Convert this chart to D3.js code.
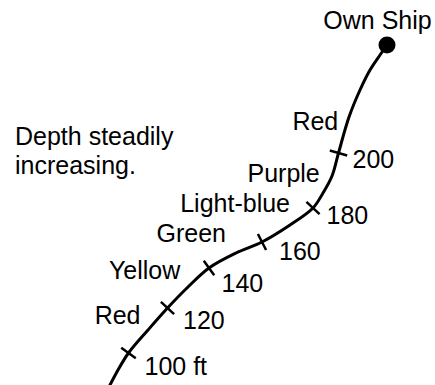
<!DOCTYPE html>
<html><head><meta charset="utf-8">
<script src="https://cdn.jsdelivr.net/npm/d3@7"></script>
<style>html,body{margin:0;padding:0;background:#fff;}svg{display:block;}</style>
</head><body>
<svg id="c" width="435" height="385"></svg>
<script>
// Track of own ship (east, north in chart units; north measured up from bottom)
const trackEast  = [110, 118, 128.5, 148, 167.5, 188, 209, 236, 262, 290, 313, 323, 332, 338.5, 349, 360, 370, 380, 387];
const trackNorth = [0,   15,  32,    55,  77,    98,  117, 132, 143, 160, 177, 192, 209, 232,   268, 295, 315, 330, 340];
// Depth soundings along the track
const depthValues = [100, 120, 140, 160, 180, 200];
const depthLabels = ["100 ft", "120", "140", "160", "180", "200"];
const depthEast  = [128.5, 167.5, 209, 262, 313, 338.5];
const depthNorth = [32,    77,    117, 143, 177, 232];
// Colour bands between soundings
const bandNames = ["Red", "Yellow", "Green", "Light-blue", "Purple", "Red"];
const shipLabel = "Own Ship";
const noteLines = ["Depth steadily", "increasing."];

const W = 435, H = 385;
const svg = d3.select("#c");
const x = d3.scaleLinear().domain([0, W]).range([0, W]);
const y = d3.scaleLinear().domain([0, H]).range([H, 0]);
const font = "'Liberation Sans', Arial, Helvetica, sans-serif";
const fs = 25;

const track = trackEast.map((e, i) => [e, trackNorth[i]]);
const line = d3.line().x(d => x(d[0])).y(d => y(d[1])).curve(d3.curveCatmullRom.alpha(0.5));
const path = svg.append("path").attr("d", line(track))
  .attr("fill", "none").attr("stroke", "#000").attr("stroke-width", 3).attr("stroke-linecap", "round");

// tangent helper
const pn = path.node(), L = pn.getTotalLength();
function tangentAt(px, py) {
  let best = 0, bd = Infinity;
  for (let s = 0; s <= L; s += 0.5) {
    const p = pn.getPointAtLength(s);
    const d = (p.x - px) ** 2 + (p.y - py) ** 2;
    if (d < bd) { bd = d; best = s; }
  }
  const a = pn.getPointAtLength(Math.max(0, best - 3)), b = pn.getPointAtLength(Math.min(L, best + 3));
  const dx = b.x - a.x, dy = b.y - a.y, n = Math.hypot(dx, dy);
  return [dx / n, dy / n];
}

const tickHalf = 9;
const numOffsets = [[16, 21.5], [15.5, 20.5], [12.5, 23.5], [17, 18], [13.5, 15.5], [14, 15]];
depthValues.forEach((d, i) => {
  const px = x(depthEast[i]), py = y(depthNorth[i]);
  const [tx, ty] = tangentAt(px, py);
  const nx = -ty, ny = tx;
  svg.append("line")
    .attr("x1", px - nx * tickHalf).attr("y1", py - ny * tickHalf)
    .attr("x2", px + nx * tickHalf).attr("y2", py + ny * tickHalf)
    .attr("stroke", "#000").attr("stroke-width", 2.5);
  svg.append("text").attr("x", px + numOffsets[i][0]).attr("y", py + numOffsets[i][1])
    .attr("font-family", font).attr("font-size", fs).attr("fill", "#000").text(depthLabels[i]);
});

// band labels: anchored at end, relative to midpoint between soundings
const bandOffsets = [[-7.5, -6.5], [-8, -9.5], [-9.5, -13.5], [2.5, -13.5], [-6, 1], [-5.5, -5]];
bandNames.forEach((name, i) => {
  let mx, my;
  if (i < depthValues.length - 1) {
    mx = (x(depthEast[i]) + x(depthEast[i + 1])) / 2;
    my = (y(depthNorth[i]) + y(depthNorth[i + 1])) / 2;
  } else {
    mx = (x(depthEast[i]) + x(349)) / 2;
    my = (y(depthNorth[i]) + y(268)) / 2;
  }
  svg.append("text").attr("x", mx + bandOffsets[i][0]).attr("y", my + bandOffsets[i][1])
    .attr("text-anchor", "end")
    .attr("font-family", font).attr("font-size", fs).attr("fill", "#000").text(name);
});

// own ship
const last = track[track.length - 1];
svg.append("circle").attr("cx", x(last[0])).attr("cy", y(last[1])).attr("r", 8.5).attr("fill", "#000");
svg.append("text").attr("x", x(last[0]) - 9.5).attr("y", y(last[1]) - 16)
  .attr("text-anchor", "middle").attr("font-family", font).attr("font-size", fs).attr("fill", "#000").text(shipLabel);

// note
svg.append("text").attr("font-family", font).attr("font-size", fs).attr("fill", "#000")
  .selectAll("tspan").data(noteLines).join("tspan")
  .attr("x", 15).attr("y", (d, i) => 145 + i * 28.5).text(d => d);
</script>
</body></html>
